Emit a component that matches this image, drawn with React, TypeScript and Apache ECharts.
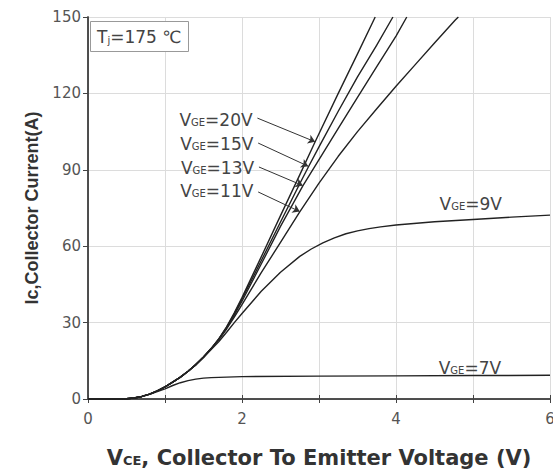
import React, { useEffect, useRef } from 'react';
import * as echarts from 'echarts';

// Output characteristics, Tj = 175 °C : [VCE (V), IC (A)]
const vge20: [number, number][] = [
  [0, 0], [0.3, 0], [0.5, 0.1], [0.6, 0.4], [0.7, 1], [0.8, 1.9], [0.9, 3.2], [1.0, 4.8],
  [1.1, 6.6], [1.2, 8.6], [1.3, 10.9], [1.4, 13.5], [1.5, 16.5], [1.6, 19.9], [1.7, 23.7],
  [1.8, 28.3], [1.9, 33.8], [2.0, 39.8], [2.25, 55.8], [2.5, 72], [2.75, 88], [2.95, 101],
  [3.25, 120], [3.5, 135.5], [3.73, 150],
];
const vge15: [number, number][] = [
  [0, 0], [0.3, 0], [0.5, 0.1], [0.6, 0.4], [0.7, 1], [0.8, 1.9], [0.9, 3.2], [1.0, 4.8],
  [1.1, 6.6], [1.2, 8.6], [1.3, 10.9], [1.4, 13.5], [1.5, 16.5], [1.6, 19.8], [1.7, 23.6],
  [1.8, 28.1], [1.9, 33.4], [2.0, 39.2], [2.25, 54.3], [2.5, 69.5], [2.75, 84.5], [2.86, 91],
  [3.0, 99], [3.25, 113], [3.5, 126.5], [3.75, 139], [3.96, 150],
];
const vge13: [number, number][] = [
  [0, 0], [0.3, 0], [0.5, 0.1], [0.6, 0.4], [0.7, 1], [0.8, 1.9], [0.9, 3.2], [1.0, 4.8],
  [1.1, 6.6], [1.2, 8.6], [1.3, 10.9], [1.4, 13.5], [1.5, 16.5], [1.6, 19.8], [1.7, 23.5],
  [1.8, 27.9], [1.9, 33], [2.0, 38.4], [2.25, 53], [2.5, 67.8], [2.79, 83.7], [3.0, 94],
  [3.25, 106.3], [3.5, 118.4], [3.75, 130.5], [4.0, 142.5], [4.14, 150],
];
const vge11: [number, number][] = [
  [0, 0], [0.3, 0], [0.5, 0.1], [0.6, 0.4], [0.7, 1], [0.8, 1.9], [0.9, 3.2], [1.0, 4.8],
  [1.1, 6.6], [1.2, 8.6], [1.3, 10.9], [1.4, 13.5], [1.5, 16.4], [1.6, 19.7], [1.7, 23.3],
  [1.8, 27.5], [1.9, 32.2], [2.0, 37.1], [2.25, 49.6], [2.5, 61.5], [2.75, 73.5], [3.0, 84.8],
  [3.25, 95.3], [3.5, 105], [3.75, 114], [4.0, 122.8], [4.25, 131.3], [4.5, 139.8],
  [4.77, 148.8], [4.81, 150],
];
const vge9: [number, number][] = [
  [0, 0], [0.3, 0], [0.5, 0.1], [0.6, 0.4], [0.7, 1], [0.8, 1.9], [0.9, 3.2], [1.0, 4.8],
  [1.1, 6.6], [1.2, 8.6], [1.3, 10.9], [1.4, 13.4], [1.5, 16.3], [1.6, 19.4], [1.7, 22.6],
  [1.8, 26.2], [1.9, 30], [2.0, 33.6], [2.25, 42.3], [2.5, 49.8], [2.75, 56], [2.9, 58.9],
  [3.05, 61.3], [3.2, 63.3], [3.35, 64.9], [3.5, 66], [3.65, 66.9], [3.8, 67.6], [4.0, 68.3],
  [4.5, 69.6], [5.0, 70.5], [5.5, 71.4], [6.0, 72.2],
];
const vge7: [number, number][] = [
  [0, 0], [0.3, 0], [0.5, 0.1], [0.6, 0.4], [0.7, 1], [0.8, 1.8], [0.9, 2.9], [1.0, 4.0],
  [1.1, 5.3], [1.2, 6.4], [1.3, 7.2], [1.4, 7.8], [1.5, 8.2], [1.6, 8.4], [1.8, 8.6],
  [2.0, 8.8], [3.0, 9.0], [4.0, 9.1], [5.0, 9.2], [6.0, 9.3],
];

const curveNames = ['VGE=20V', 'VGE=15V', 'VGE=13V', 'VGE=11V', 'VGE=9V', 'VGE=7V'];
const curveLabels = ['=20V', '=15V', '=13V', '=11V', '=9V', '=7V'];
// label anchor [VCE, IC] and arrow [start, end] in data units (null = no arrow)
const labelAnchors: [number, number][] = [
  [2.17, 110.3], [2.18, 100.9], [2.19, 91.1], [2.18, 82.1], [4.97, 77.3], [4.96, 12.6],
];
const arrowStarts: ([number, number] | null)[] = [
  [2.2, 110.3], [2.21, 100.5], [2.22, 91.1], [2.21, 81.3], null, null,
];
const arrowEnds: ([number, number] | null)[] = [
  [2.95, 101], [2.86, 91.4], [2.79, 83.8], [2.75, 73.6], null, null,
];
const curves = [vge20, vge15, vge13, vge11, vge9, vge7];

const xTicks = [0, 6, 1];
const yTicks = [0, 150, 30];

const FONT = 'DejaVu Sans';
const TXT = '#444';

export default function App() {
  const ref = useRef<HTMLDivElement>(null);
  useEffect(() => {
    const chart = echarts.init(ref.current!, null, { renderer: 'svg' });
    const rich = {
      a: { fontSize: 17, fontFamily: FONT, color: TXT, lineHeight: 20, verticalAlign: 'bottom' },
      b: { fontSize: 10, fontFamily: FONT, color: TXT, lineHeight: 12, verticalAlign: 'bottom', padding: [0, 0, 1, 0] },
    };
    const series: any[] = curves.map((data, i) => {
      const s: any = {
        name: curveNames[i],
        type: 'line',
        data,
        smooth: false,
        showSymbol: false,
        symbol: 'none',
        clip: true,
        lineStyle: { color: '#222', width: 1.4, join: 'round' },
        markPoint: {
          silent: true,
          symbol: 'circle',
          symbolSize: 1,
          itemStyle: { color: 'rgba(0,0,0,0)' },
          label: {
            show: true,
            position: i < 4 ? 'left' : 'inside',
            distance: 2,
            formatter: '{a|V}{b|GE}{a|' + curveLabels[i] + '}',
            rich,
          },
          data: [{ coord: labelAnchors[i] }],
        },
      };
      const st = arrowStarts[i];
      const en = arrowEnds[i];
      if (st && en) {
        s.markLine = {
          silent: true,
          symbol: ['none', 'arrow'],
          symbolSize: [7, 7],
          label: { show: false },
          lineStyle: { color: '#333', width: 1, type: 'solid' },
          data: [[{ coord: st }, { coord: en }]],
        };
      }
      return s;
    });

    chart.setOption({
      animation: false,
      backgroundColor: '#fff',
      title: {
        text: '{a|T}{b|j}{a|=175 ℃}',
        left: 90,
        top: 18,
        padding: [7, 7, 7, 7],
        borderColor: '#999',
        borderWidth: 1,
        backgroundColor: '#fff',
        textStyle: {
          fontWeight: 'normal',
          rich: {
            a: { fontSize: 17, fontFamily: FONT, fontWeight: 'normal', color: TXT, lineHeight: 20, verticalAlign: 'bottom' },
            b: { fontSize: 10, fontFamily: FONT, fontWeight: 'normal', color: TXT, lineHeight: 10, verticalAlign: 'bottom' },
          },
        },
      },
      grid: { left: 88, right: 3, top: 17, bottom: 72, outerBoundsMode: 'none' },
      xAxis: [
        {
          type: 'value',
          position: 'bottom',
          min: xTicks[0],
          max: xTicks[1],
          interval: xTicks[2],
          axisLine: { show: true, lineStyle: { color: '#444', width: 1.5 } },
          axisTick: { show: true, inside: true, length: 4, lineStyle: { color: '#444' } },
          axisLabel: {
            fontSize: 15,
            fontFamily: FONT,
            color: '#555',
            margin: 12,
            formatter: (v: number) => (v % 2 === 0 ? String(v) : ''),
          },
          splitLine: { show: true, lineStyle: { color: '#dcdcdc', width: 1 } },
          name: '{a|V}{b|CE}{a|, Collector To Emitter Voltage (V)}',
          nameLocation: 'middle',
          nameGap: 45,
          nameTextStyle: {
            rich: {
              a: { fontSize: 21, fontFamily: FONT, fontWeight: 'bold', color: '#333', lineHeight: 24, verticalAlign: 'bottom' },
              b: { fontSize: 13, fontFamily: FONT, fontWeight: 'bold', color: '#333', lineHeight: 15, verticalAlign: 'bottom', padding: [0, 0, 1, 0] },
            },
          },
        },
        {
          type: 'value',
          position: 'top',
          min: xTicks[0],
          max: xTicks[1],
          interval: xTicks[2],
          axisLine: { show: true, lineStyle: { color: '#444', width: 1.5 } },
          axisTick: { show: true, inside: true, length: 4, lineStyle: { color: '#444' } },
          axisLabel: { show: false },
          splitLine: { show: false },
        },
      ],
      yAxis: [
        {
          type: 'value',
          position: 'left',
          min: yTicks[0],
          max: yTicks[1],
          interval: yTicks[2],
          axisLine: { show: true, lineStyle: { color: '#444', width: 1.5 } },
          axisTick: { show: true, inside: false, length: 5, lineStyle: { color: '#444' } },
          axisLabel: { fontSize: 15, fontFamily: FONT, color: '#555', margin: 7 },
          splitLine: { show: true, lineStyle: { color: '#dcdcdc', width: 1 } },
          name: 'Ic,Collector Current(A)',
          nameLocation: 'middle',
          nameGap: 37,
          nameTextStyle: { fontSize: 18, fontFamily: 'Liberation Sans', fontWeight: 'bold', color: '#333' },
        },
        {
          type: 'value',
          position: 'right',
          min: yTicks[0],
          max: yTicks[1],
          interval: yTicks[2],
          axisLine: { show: true, lineStyle: { color: '#444', width: 1.5 } },
          axisTick: { show: true, inside: true, length: 4, lineStyle: { color: '#444' } },
          axisLabel: { show: false },
          splitLine: { show: false },
        },
      ],
      series,
    });
    return () => chart.dispose();
  }, []);
  return <div ref={ref} style={{ position: 'fixed', left: 0, top: 0, width: 553, height: 471 }} />;
}
